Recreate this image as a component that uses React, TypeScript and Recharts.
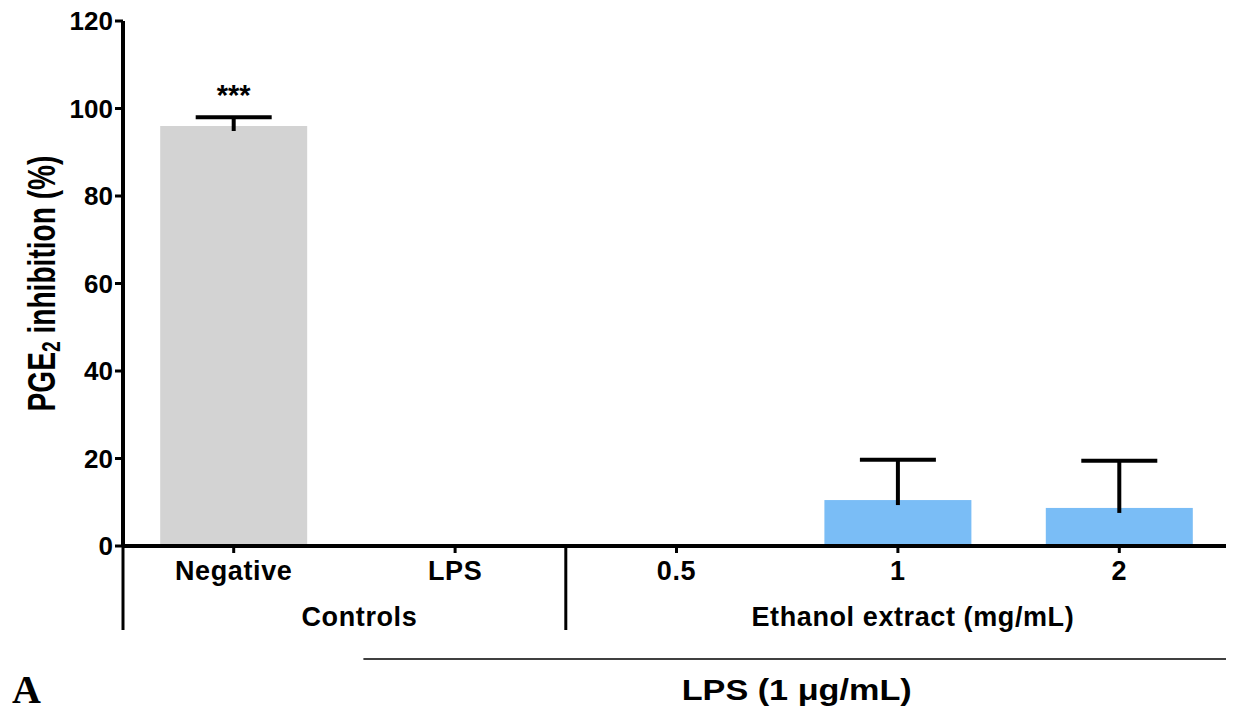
import { BarChart, Bar, XAxis, YAxis, Cell } from 'recharts'

const categories = ['Negative', 'LPS', '0.5', '1', '2']
const inhibition = [96, 0, 0, 10.5, 8.7]
const sem = [2, 0, 0, 9.2, 10.8]
const significance = ['***', '', '', '', '']
const groupNames = ['Controls', 'Ethanol extract (mg/mL)']
const groupOf = [0, 0, 1, 1, 1]
const yTicks = [0, 20, 40, 60, 80, 100, 120]
const barColors = ['#d3d3d3', '#d3d3d3', '#7abdf6', '#7abdf6', '#7abdf6']

const data = categories.map((name, i) => ({
  name,
  value: inhibition[i],
  sem: sem[i],
  mark: significance[i],
}))

const FONT = '"Liberation Sans", Arial, Helvetica, sans-serif'
const TICK_SIZE = 7
const TICK_MARGIN = 2
const LABEL = { fontFamily: FONT, fontWeight: 'bold', fontSize: 27, letterSpacing: 0.6, fill: '#000' } as const

// bar with an upper-only error whisker and the significance stars
function BarWithError(props: any) {
  const { x, y, width, height, fill, payload } = props
  if (!payload || payload.value <= 0) return null
  const unit = height / payload.value
  const errTop = y - payload.sem * unit
  const cx = x + width / 2
  return (
    <g>
      <rect x={x} y={y} width={width} height={height} fill={fill} />
      <line x1={cx} x2={cx} y1={y + 5} y2={errTop} stroke="#000" strokeWidth={4} />
      <line x1={cx - 38} x2={cx + 38} y1={errTop} y2={errTop} stroke="#000" strokeWidth={4} />
      {payload.mark ? (
        <text x={cx} y={errTop - 12} textAnchor="middle" fontFamily={FONT} fontWeight="bold" fontSize={29} fill="#000">
          {payload.mark}
        </text>
      ) : null}
    </g>
  )
}

function CategoryTick(props: any) {
  const { x, y, payload } = props
  const idx: number = payload.index
  const half: number = payload.offset || 110.7
  const band = half * 2
  const axisY = y - TICK_SIZE - TICK_MARGIN
  const g = groupOf[idx]
  const firstInGroup = idx === 0 || groupOf[idx - 1] !== g
  const groupSize = groupOf.filter((v) => v === g).length
  const isLast = idx === categories.length - 1
  const lpsLeft = x - half + 19
  const lpsRight = x - half + 4 * band
  return (
    <g>
      <text x={x} y={axisY + 34} textAnchor="middle" {...LABEL}>
        {payload.value}
      </text>
      {firstInGroup ? (
        <>
          <line x1={x - half} x2={x - half} y1={axisY} y2={axisY + 84} stroke="#000" strokeWidth={3} />
          <text x={x - half + (groupSize * band) / 2 + 15} y={axisY + 80} textAnchor="middle" {...LABEL}>
            {groupNames[g]}
          </text>
        </>
      ) : null}
      {isLast ? <line x1={x + half} x2={x + half} y1={axisY} y2={axisY + 84} stroke="#000" strokeWidth={3} /> : null}
      {idx === 1 ? (
        <>
          <line x1={lpsLeft} x2={lpsRight} y1={axisY + 113} y2={axisY + 113} stroke="#000" strokeWidth={1.5} />
          <text
            x={(lpsLeft + lpsRight) / 2}
            y={axisY + 154}
            textAnchor="middle"
            fontFamily={FONT}
            fontWeight="bold"
            fontSize={29}
            textLength={230}
            lengthAdjust="spacingAndGlyphs"
            fill="#000"
          >
            LPS (1 μg/mL)
          </text>
        </>
      ) : null}
    </g>
  )
}

function YLabel(props: any) {
  const vb = props.viewBox || { x: 0, y: 25, width: 115, height: 525 }
  const cx = vb.x + 33
  const cy = vb.y + vb.height / 2
  return (
    <text
      x={0}
      y={0}
      transform={`translate(${cx} ${cy}) rotate(-90) scale(0.74 1)`}
      textAnchor="middle"
      dominantBaseline="central"
      fontFamily={FONT}
      fontWeight="bold"
      fontSize={38}
      fill="#000"
    >
      <tspan>PGE</tspan>
      <tspan fontSize={26} dy={10}>2</tspan>
      <tspan dy={-10}> inhibition (%)</tspan>
    </text>
  )
}

export default function App() {
  return (
    <div style={{ position: 'relative', width: 1226, height: 712, marginTop: -12 }}>
      <BarChart
        width={1226}
        height={712}
        data={data}
        margin={{ top: 25, right: 4, left: 0, bottom: 12 }}
        barCategoryGap="16.8%"
      >
        <XAxis
          dataKey="name"
          interval={0}
          height={150}
          tickSize={TICK_SIZE}
          tickMargin={TICK_MARGIN}
          axisLine={{ stroke: '#000', strokeWidth: 4 }}
          tickLine={{ stroke: '#000', strokeWidth: 3 }}
          tick={<CategoryTick />}
        />
        <YAxis
          width={115}
          domain={[0, 120]}
          ticks={yTicks}
          interval={0}
          tickSize={8}
          tickMargin={2}
          axisLine={{ stroke: '#000', strokeWidth: 4 }}
          tickLine={{ stroke: '#000', strokeWidth: 3 }}
          tick={{ fontFamily: FONT, fontWeight: 'bold', fontSize: 26, fill: '#000' }}
          label={<YLabel />}
        />
        <Bar dataKey="value" isAnimationActive={false} shape={<BarWithError />}>
          {data.map((d, i) => (
            <Cell key={d.name} fill={barColors[i]} />
          ))}
        </Bar>
      </BarChart>
      <div
        style={{
          position: 'absolute',
          left: 4,
          top: 674,
          fontFamily: '"Liberation Serif", "Times New Roman", serif',
          fontWeight: 'bold',
          fontSize: 40,
          lineHeight: '40px',
          color: '#000',
        }}
      >
        A
      </div>
    </div>
  )
}
